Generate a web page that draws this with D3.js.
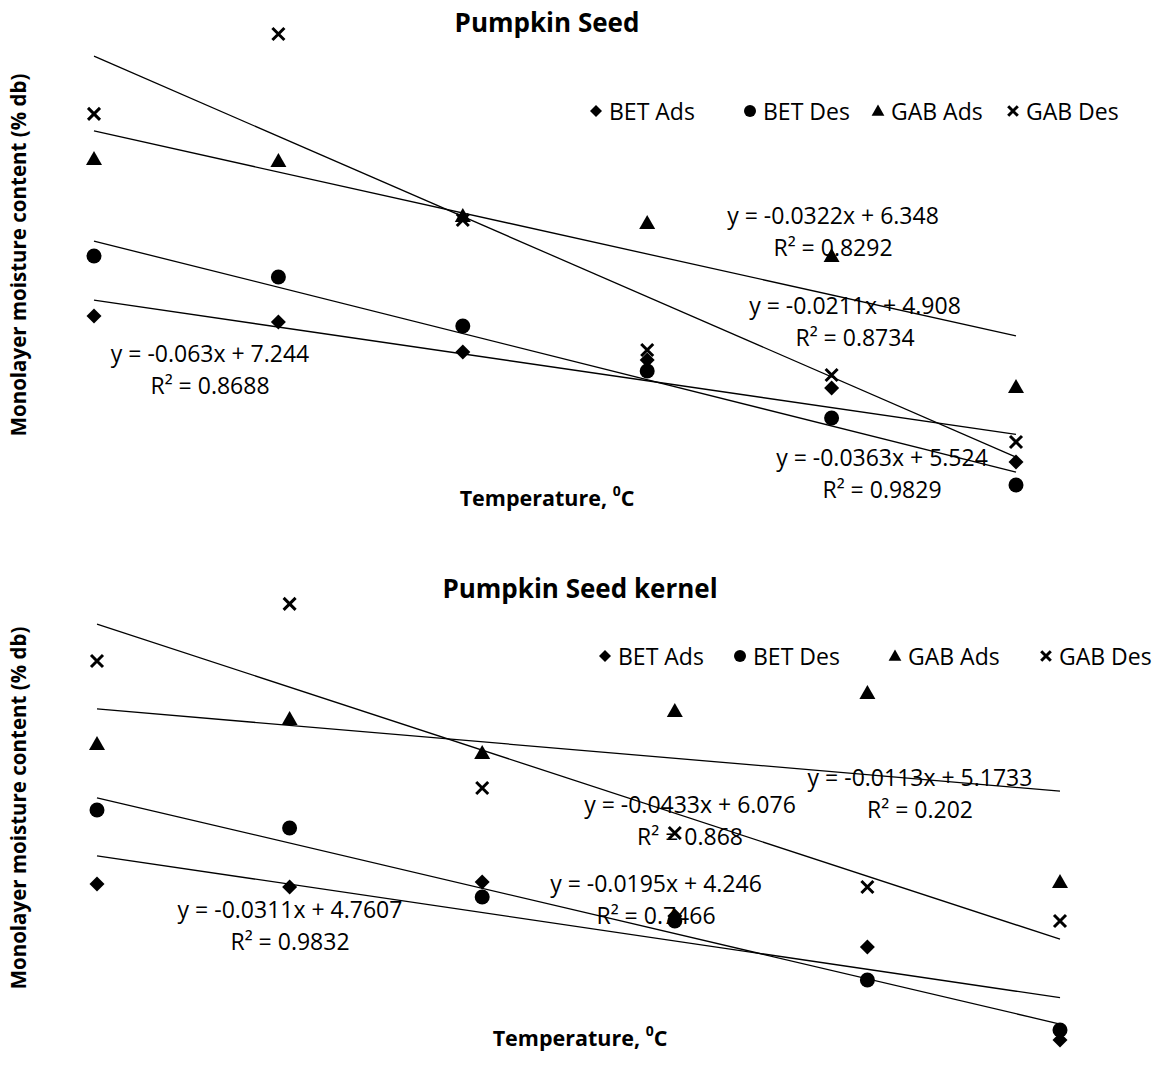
<!DOCTYPE html>
<html>
<head>
<meta charset="utf-8">
<script src="https://cdn.jsdelivr.net/npm/d3@7"></script>
<style>
  body { margin: 0; background: #fff; }
  text { font-family: "Open Sans", sans-serif; fill: #000; }
</style>
</head>
<body>
<div id="fig"></div>
<script>
// temperatures (deg C) and series names
var temps = [10, 20, 30, 40, 50, 60];
var seriesNames = ["BET Ads", "BET Des", "GAB Ads", "GAB Des"];

// Pumpkin Seed monolayer moisture content (% db)
var seedBetAds = [4.573, 4.526, 4.290, 4.227, 4.007, 3.426];
var seedBetDes = [5.044, 4.879, 4.494, 4.141, 3.771, 3.245];
var seedGabAds = [5.806, 5.790, 5.358, 5.303, 5.044, 4.015];
var seedGabDes = [6.160, 6.788, 5.327, 4.306, 4.109, 3.583];
var seedSlopes = [-0.0211, -0.0363, -0.0322, -0.063];
var seedIntercepts = [4.908, 5.524, 6.348, 7.244];
var seedR2 = ["0.8734", "0.9829", "0.8292", "0.8688"];

// Pumpkin Seed kernel
var kernelBetAds = [3.858, 3.837, 3.871, 3.638, 3.425, 2.785];
var kernelBetDes = [4.366, 4.242, 3.768, 3.603, 3.198, 2.854];
var kernelGabAds = [4.820, 4.992, 4.758, 5.047, 5.170, 3.871];
var kernelGabDes = [5.390, 5.782, 4.517, 4.208, 3.837, 3.603];
var kernelSlopes = [-0.0195, -0.0311, -0.0113, -0.0433];
var kernelIntercepts = [4.246, 4.7607, 5.1733, 6.076];
var kernelR2 = ["0.7466", "0.9832", "0.202", "0.868"];

var width = 1162, height = 1078;

var svg = d3.select("#fig").append("svg")
  .attr("width", width)
  .attr("height", height);

// marker shapes: 0 diamond, 1 circle, 2 triangle, 3 cross
function drawMarker(g, kind, x, y, s) {
  s = s || 1;
  if (kind == 0) {
    g.append("path").attr("d", "M" + x + "," + (y - 7.5 * s) + "L" + (x + 7.5 * s) + "," + y + "L" + x + "," + (y + 7.5 * s) + "L" + (x - 7.5 * s) + "," + y + "Z")
      .attr("fill", "#000");
  } else if (kind == 1) {
    g.append("circle").attr("cx", x).attr("cy", y).attr("r", 7.5 * s).attr("fill", "#000");
  } else if (kind == 2) {
    g.append("path").attr("d", "M" + x + "," + (y - 8 * s) + "L" + (x + 8 * s) + "," + (y + 6 * s) + "L" + (x - 8 * s) + "," + (y + 6 * s) + "Z")
      .attr("fill", "#000");
  } else {
    var h = 6 * s;
    g.append("path").attr("d", "M" + (x - h) + "," + (y - h) + "L" + (x + h) + "," + (y + h) + "M" + (x + h) + "," + (y - h) + "L" + (x - h) + "," + (y + h))
      .attr("stroke", "#000").attr("stroke-width", 3).attr("fill", "none");
  }
}

function drawChart(cfg) {
  var g = svg.append("g");

  var x = d3.scaleLinear().domain([10, 60]).range(cfg.xRange);
  var y = d3.scaleLinear().domain(cfg.yDomain).range(cfg.yRange);

  // title
  g.append("text")
    .attr("x", cfg.titlePos[0]).attr("y", cfg.titlePos[1])
    .attr("text-anchor", "middle").attr("dominant-baseline", "central")
    .style("font-weight", "bold").style("font-size", "26px")
    .text(cfg.title);

  // y axis title
  g.append("text")
    .attr("transform", "translate(" + cfg.yTitlePos[0] + "," + cfg.yTitlePos[1] + ") rotate(-90)")
    .attr("text-anchor", "middle").attr("dominant-baseline", "central")
    .style("font-weight", "bold").style("font-size", "20.5px")
    .text("Monolayer moisture content (% db)");

  // x axis title
  var xt = g.append("text")
    .attr("x", cfg.xTitlePos[0]).attr("y", cfg.xTitlePos[1])
    .attr("text-anchor", "middle").attr("dominant-baseline", "central")
    .style("font-weight", "bold").style("font-size", "21.5px");
  xt.append("tspan").text("Temperature, ");
  xt.append("tspan").attr("dy", -7).style("font-size", "14px").text("0");
  xt.append("tspan").attr("dy", 7).text("C");

  // trend lines
  cfg.slopes.forEach(function(m, i) {
    var b = cfg.intercepts[i];
    g.append("line")
      .attr("x1", x(10)).attr("y1", y(m * 10 + b))
      .attr("x2", x(60)).attr("y2", y(m * 60 + b))
      .attr("stroke", "#000").attr("stroke-width", 1.3);
  });

  // points
  cfg.series.forEach(function(vals, k) {
    vals.forEach(function(v, i) {
      drawMarker(g, k, x(temps[i]), y(v));
    });
  });

  // equation labels
  cfg.slopes.forEach(function(m, i) {
    var p = cfg.labelPos[i];
    g.append("text")
      .attr("x", p[0]).attr("y", p[1])
      .attr("text-anchor", "middle").attr("dominant-baseline", "central")
      .style("font-size", "23px")
      .text("y = " + m + "x + " + cfg.intercepts[i]);
    g.append("text")
      .attr("x", p[0]).attr("y", p[1] + 32)
      .attr("text-anchor", "middle").attr("dominant-baseline", "central")
      .style("font-size", "23px")
      .text("R\u00B2 = " + cfg.r2[i]);
  });

  // legend
  seriesNames.forEach(function(name, k) {
    var lx = cfg.legendX[k];
    drawMarker(g, k, lx, cfg.legendY, 0.8);
    g.append("text")
      .attr("x", lx + 13).attr("y", cfg.legendY)
      .attr("dominant-baseline", "central")
      .style("font-size", "23px")
      .text(name);
  });
}

drawChart({
  title: "Pumpkin Seed",
  titlePos: [547, 22],
  yTitlePos: [18, 255],
  xTitlePos: [547, 497],
  xRange: [94, 1016],
  yDomain: [3, 7],
  yRange: [516.2, 7.0],
  series: [seedBetAds, seedBetDes, seedGabAds, seedGabDes],
  slopes: seedSlopes,
  intercepts: seedIntercepts,
  r2: seedR2,
  labelPos: [[855, 305], [882, 457], [833, 215], [210, 353]],
  legendX: [596, 750, 878, 1013],
  legendY: 111
});

drawChart({
  title: "Pumpkin Seed kernel",
  titlePos: [580, 588],
  yTitlePos: [18, 808],
  xTitlePos: [580, 1037],
  xRange: [97, 1060],
  yDomain: [2.5, 6],
  yRange: [1081.5, 572.2],
  series: [kernelBetAds, kernelBetDes, kernelGabAds, kernelGabDes],
  slopes: kernelSlopes,
  intercepts: kernelIntercepts,
  r2: kernelR2,
  labelPos: [[656, 883], [290, 909], [920, 777], [690, 804]],
  legendX: [605, 740, 895, 1046],
  legendY: 656
});
</script>
</body>
</html>
